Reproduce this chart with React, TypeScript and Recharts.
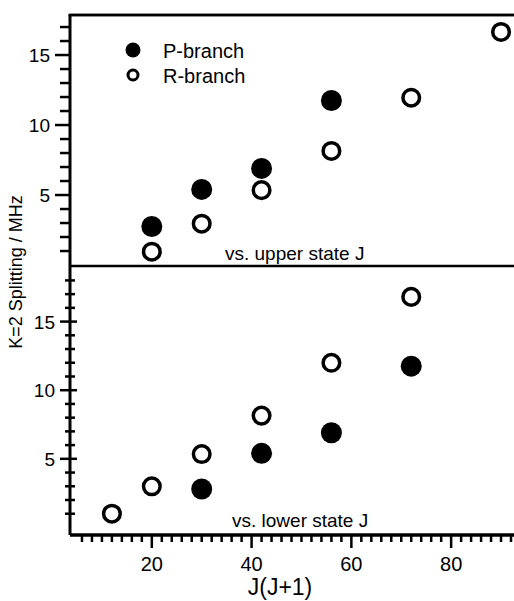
import React from 'react';
import { ScatterChart, Scatter, XAxis, YAxis, ReferenceLine } from 'recharts';

const FONT = '"Liberation Sans", Arial, Helvetica, sans-serif';

// J(J+1) and K=2 splitting (MHz)
// upper panel: plotted vs. upper state J
const upperPX = [20, 30, 42, 56];
const upperPY = [2.75, 5.4, 6.9, 11.75];
const upperRX = [20, 30, 42, 56, 72, 90];
const upperRY = [0.95, 2.95, 5.35, 8.15, 11.95, 16.65];

// lower panel: plotted vs. lower state J
const lowerPX = [30, 42, 56, 72];
const lowerPY = [2.8, 5.4, 6.9, 11.75];
const lowerRX = [12, 20, 30, 42, 56, 72];
const lowerRY = [1.0, 3.0, 5.35, 8.15, 12.0, 16.8];

const xLabeled = [20, 40, 60, 80];
const yLabeled = [5, 10, 15];
const xTicks = Array.from({ length: 44 }, (_, i) => 6 + i * 2);
const yTicksUpper = Array.from({ length: 17 }, (_, i) => i + 1);
const yTicksLower = Array.from({ length: 18 }, (_, i) => i + 1);

const X_DOMAIN: [number, number] = [3.6, 92.6];
const UPPER_Y: [number, number] = [-0.07, 17.86];
const LOWER_Y: [number, number] = [-0.55, 19.05];

const toPoints = (xs: number[], ys: number[]) => xs.map((x, i) => ({ x, y: ys[i] }));

const filledDot = (p: any) => <circle cx={p.cx} cy={p.cy} r={10.5} fill="#000" />;
const openDot = (p: any) => (
  <circle cx={p.cx} cy={p.cy} r={8.3} fill="#fff" stroke="#000" strokeWidth={3.5} />
);

const UpperYTick = (props: any) => {
  const { x, y, payload } = props;
  const major = yLabeled.includes(payload.value);
  return (
    <g>
      <line x1={x - (major ? 15 : 10)} x2={x} y1={y} y2={y} stroke="#000" strokeWidth={2.5} />
      {major && (
        <text x={x - 20} y={y} dy={7} textAnchor="end" fontSize={19} fontFamily={FONT} fill="#000">
          {payload.value}
        </text>
      )}
    </g>
  );
};

const LowerYTick = (props: any) => {
  const { x, y, payload } = props;
  const major = yLabeled.includes(payload.value);
  return (
    <g>
      <line x1={x - (major ? 10 : 5)} x2={x + (major ? 7 : 5)} y1={y} y2={y} stroke="#000" strokeWidth={2.5} />
      {major && (
        <text x={x - 15} y={y} dy={7} textAnchor="end" fontSize={19} fontFamily={FONT} fill="#000">
          {payload.value}
        </text>
      )}
    </g>
  );
};

const XTick = (props: any) => {
  const { x, y, payload } = props;
  const major = xLabeled.includes(payload.value);
  return (
    <g>
      <line x1={x} x2={x} y1={y} y2={y + (major ? 13 : 7)} stroke="#000" strokeWidth={2.5} />
      {major && (
        <text x={x} y={y + 36} textAnchor="middle" fontSize={20} fontFamily={FONT} fill="#000">
          {payload.value}
        </text>
      )}
    </g>
  );
};

const axisStroke = { stroke: '#000', strokeWidth: 3 };

export default function App() {
  return (
    <div style={{ position: 'absolute', left: 0, top: 0, width: 514, height: 601, background: '#fff' }}>
      <div style={{ position: 'absolute', left: 0, top: 0 }}>
        <ScatterChart width={514} height={266} margin={{ top: 15, right: 0, bottom: 0, left: 0 }}>
          <XAxis dataKey="x" type="number" domain={X_DOMAIN} allowDataOverflow hide />
          <YAxis
            dataKey="y"
            type="number"
            domain={UPPER_Y}
            allowDataOverflow
            width={70}
            ticks={yTicksUpper}
            interval={0}
            tickSize={0}
            tickMargin={0}
            tickLine={false}
            tick={<UpperYTick />}
            stroke="#000"
            strokeWidth={3}
            axisLine={axisStroke}
          />
          <ReferenceLine y={UPPER_Y[1]} stroke="#000" strokeWidth={2.5} ifOverflow="visible" />
          <Scatter name="P-branch" data={toPoints(upperPX, upperPY)} shape={filledDot} isAnimationActive={false} />
          <Scatter name="R-branch" data={toPoints(upperRX, upperRY)} shape={openDot} isAnimationActive={false} />
        </ScatterChart>
      </div>
      <div style={{ position: 'absolute', left: 0, top: 256 }}>
        <ScatterChart width={514} height={345} margin={{ top: 10, right: 0, bottom: 0, left: 0 }}>
          <XAxis
            dataKey="x"
            type="number"
            domain={X_DOMAIN}
            allowDataOverflow
            height={66}
            ticks={xTicks}
            interval={0}
            tickSize={0}
            tickMargin={0}
            tickLine={false}
            tick={<XTick />}
            stroke="#000"
            strokeWidth={3}
            axisLine={axisStroke}
          />
          <YAxis
            dataKey="y"
            type="number"
            domain={LOWER_Y}
            allowDataOverflow
            width={70}
            ticks={yTicksLower}
            interval={0}
            tickSize={0}
            tickMargin={0}
            tickLine={false}
            tick={<LowerYTick />}
            stroke="#000"
            strokeWidth={3}
            axisLine={axisStroke}
          />
          {/* divider between the panels, and bottom axis line */}
          <ReferenceLine y={LOWER_Y[1]} stroke="#000" strokeWidth={2.5} ifOverflow="visible" />
          <ReferenceLine y={LOWER_Y[0]} stroke="#000" strokeWidth={3} ifOverflow="visible" />
          <Scatter name="R-branch" data={toPoints(lowerRX, lowerRY)} shape={openDot} isAnimationActive={false} />
          <Scatter name="P-branch" data={toPoints(lowerPX, lowerPY)} shape={filledDot} isAnimationActive={false} />
        </ScatterChart>
      </div>
      <svg
        width={514}
        height={601}
        style={{ position: 'absolute', left: 0, top: 0, pointerEvents: 'none' }}
        fontFamily={FONT}
      >
        {/* top frame edge of the upper panel */}
        <line x1={68.5} x2={514} y1={15} y2={15} stroke="#000" strokeWidth={2.5} />

        {/* legend */}
        <circle cx={133} cy={50} r={7.5} fill="#000" />
        <text x={163} y={58} fontSize={20}>P-branch</text>
        <circle cx={133} cy={75} r={5} fill="#fff" stroke="#000" strokeWidth={3} />
        <text x={163} y={83} fontSize={20}>R-branch</text>

        <text x={225} y={260} fontSize={19}>vs. upper state J</text>
        <text x={232} y={527} fontSize={19}>vs. lower state J</text>

        <text x={280} y={595} fontSize={23} textAnchor="middle">J(J+1)</text>
        <text x={22} y={272} fontSize={18} textAnchor="middle" transform="rotate(-90 22 272)">
          K=2 Splitting / MHz
        </text>
      </svg>
    </div>
  );
}
